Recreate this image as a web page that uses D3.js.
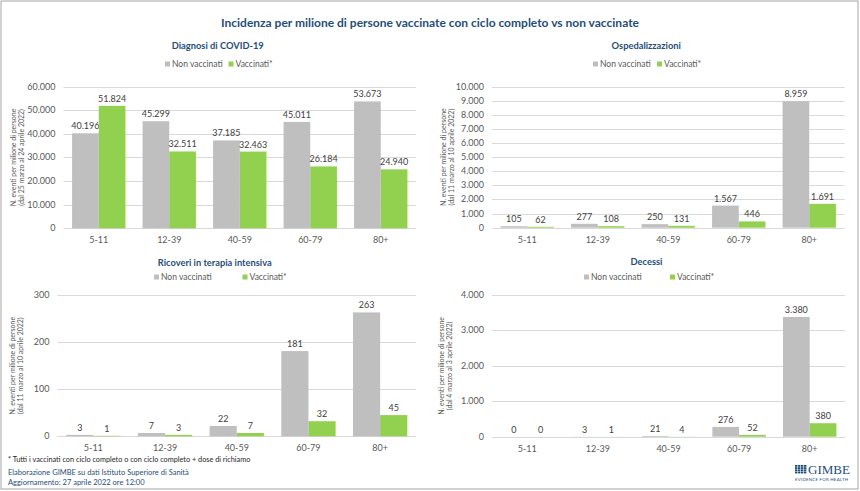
<!DOCTYPE html>
<html><head><meta charset="utf-8">
<script src="https://cdn.jsdelivr.net/npm/d3@7"></script>
<style>
html,body{margin:0;padding:0;background:#fff;}
svg{display:block;font-family:Lato,"Open Sans",sans-serif;}
</style></head>
<body>
<svg id="chart" width="860" height="491"></svg>
<script>
const categories = ["5-11","12-39","40-59","60-79","80+"];
const seriesNames = ["Non vaccinati","Vaccinati*"];

const diagnosiNonVacc = [40196,45299,37185,45011,53673];
const diagnosiVacc    = [51824,32511,32463,26184,24940];
const diagnosiTicks   = [0,10000,20000,30000,40000,50000,60000];

const ospNonVacc = [105,277,250,1567,8959];
const ospVacc    = [62,108,131,446,1691];
const ospTicks   = [0,1000,2000,3000,4000,5000,6000,7000,8000,9000,10000];

const tiNonVacc = [3,7,22,181,263];
const tiVacc    = [1,3,7,32,45];
const tiTicks   = [0,100,200,300];

const decNonVacc = [0,3,21,276,3380];
const decVacc    = [0,1,4,52,380];
const decTicks   = [0,1000,2000,3000,4000];

const mainTitle = "Incidenza per milione di persone vaccinate con ciclo completo vs non vaccinate";
const footnote = "* Tutti i vaccinati con ciclo completo o con ciclo completo +  dose di richiamo";
const source1 = "Elaborazione GIMBE su dati Istituto Superiore di Sanità";
const source2 = "Aggiornamento: 27 aprile 2022 ore 12:00";

const colors = ["#bfbfbf","#92d050"];
const titleColor = "#1f4e79";
const textColor = "#595959";
const gridColor = "#d9d9d9";

const it = d3.formatLocale({decimal:",",thousands:".",grouping:[3],currency:["€",""]});
const fmt = it.format(",d");

const svg = d3.select("#chart");
svg.append("rect").attr("x",1).attr("y",1).attr("width",857).attr("height",488)
  .attr("fill","#fff").attr("stroke","#a6a6a6").attr("stroke-width",1);

svg.append("text").attr("x",430).attr("y",27).attr("text-anchor","middle")
  .attr("font-size",12).attr("font-weight","bold").attr("fill",titleColor).text(mainTitle);

const panels = [
  {title:"Diagnosi di COVID-19", nv:diagnosiNonVacc, v:diagnosiVacc, ticks:diagnosiTicks,
   x0:63.5, x1:416, y0:86.5, y1:228.3, titleY:49, legY:64, leg:[165,228.5],
   ytitle:["N. eventi per milione di persone","(dal 25  marzo al 24  aprile 2022)"], ytx:17},
  {title:"Ospedalizzazioni", nv:ospNonVacc, v:ospVacc, ticks:ospTicks,
   x0:492, x1:844.5, y0:86.5, y1:227.7, titleY:49, legY:64, leg:[593,657],
   ytitle:["N. eventi per milione di persone","(dal 11  marzo al 10  aprile 2022)"], ytx:447},
  {title:"Ricoveri in terapia intensiva", nv:tiNonVacc, v:tiVacc, ticks:tiTicks,
   x0:57.5, x1:416, y0:295, y1:436.3, titleY:266, legY:277, leg:[154,242.5],
   ytitle:["N. eventi per milione di persone","(dal 11  marzo al 10  aprile 2022)"], ytx:16},
  {title:"Decessi", nv:decNonVacc, v:decVacc, ticks:decTicks,
   x0:492, x1:845, y0:295, y1:436.7, titleY:265, legY:277, leg:[584,670],
   ytitle:["N. eventi per milione di persone","(dal 4  marzo al 3  aprile 2022)"], ytx:445}
];

panels.forEach(p => {
  const g = svg.append("g");
  const x = d3.scaleBand().domain(categories).range([p.x0,p.x1]).paddingInner(0.243).paddingOuter(0.1215);
  const xs = d3.scaleBand().domain([0,1]).range([0,x.bandwidth()]);
  const y = d3.scaleLinear().domain([0,d3.max(p.ticks)]).range([p.y1,p.y0]);

  g.selectAll("line.grid").data(p.ticks).join("line")
    .attr("x1",p.x0).attr("x2",p.x1).attr("y1",d=>Math.round(y(d))+0.5).attr("y2",d=>Math.round(y(d))+0.5)
    .attr("stroke",gridColor).attr("stroke-width",1);

  g.selectAll("text.ytick").data(p.ticks).join("text")
    .attr("x",p.x0-8).attr("y",d=>y(d)+3).attr("text-anchor","end")
    .attr("font-size",9).attr("fill",textColor).text(d=>fmt(d));

  g.selectAll("text.xlab").data(categories).join("text")
    .attr("x",d=>x(d)+x.bandwidth()/2).attr("y",p.y1+15).attr("text-anchor","middle")
    .attr("font-size",9).attr("fill",textColor).text(d=>d);

  [p.nv,p.v].forEach((vals,si) => {
    g.selectAll("rect.s"+si).data(vals).join("rect")
      .attr("x",(d,i)=>x(categories[i])+xs(si)).attr("width",xs.bandwidth())
      .attr("y",d=>y(d)).attr("height",d=>y(0)-y(d)).attr("fill",colors[si]);
    g.selectAll("text.l"+si).data(vals).join("text")
      .attr("x",(d,i)=>x(categories[i])+xs(si)+xs.bandwidth()/2)
      .attr("y",d=>y(d)-4).attr("text-anchor","middle")
      .attr("font-size",9).attr("fill","#404040").text(d=>fmt(d));
  });

  svg.append("text").attr("x",(p.x0+p.x1)/2 - 22).attr("y",p.titleY).attr("text-anchor","middle")
    .attr("font-size",9.3).attr("font-weight","bold").attr("fill",titleColor).text(p.title);

  seriesNames.forEach((n,i) => {
    svg.append("rect").attr("x",p.leg[i]).attr("y",p.legY-2.5).attr("width",5).attr("height",5).attr("fill",colors[i]);
    svg.append("text").attr("x",p.leg[i]+7).attr("y",p.legY+3).attr("font-size",8.5).attr("fill",textColor).text(n);
  });

  const cy = (p.y0+p.y1)/2;
  const yt = svg.append("text").attr("transform",`translate(${p.ytx},${cy}) rotate(-90)`)
    .attr("text-anchor","middle").attr("font-size",7).attr("fill",textColor);
  p.ytitle.forEach((t,i)=>{
    yt.append("tspan").attr("x",0).attr("dy",i===0?-1:7.5).text(t);
  });
});

svg.append("text").attr("x",8).attr("y",462).attr("font-size",7.3).attr("fill","#262626").text(footnote);
svg.append("text").attr("x",8).attr("y",475).attr("font-size",7.5).attr("fill",titleColor).text(source1);
svg.append("text").attr("x",8).attr("y",485).attr("font-size",7.5).attr("fill",titleColor).text(source2);

const lg = svg.append("g").attr("transform","translate(795,465)");
for (let r=0;r<4;r++) for (let c=0;c<4;c++) {
  lg.append("rect").attr("x",c*3).attr("y",r*2.2).attr("width",2.4).attr("height",1.8).attr("fill",titleColor);
}
lg.append("text").attr("x",13).attr("y",9).attr("font-family","'Liberation Serif','DejaVu Serif',serif")
  .attr("font-size",13).attr("fill",titleColor).text("GIMBE");
lg.append("text").attr("x",0).attr("y",15.5).attr("font-size",4.3).attr("fill",titleColor)
  .attr("textLength",53).text("EVIDENCE FOR HEALTH");
</script>
</body></html>
